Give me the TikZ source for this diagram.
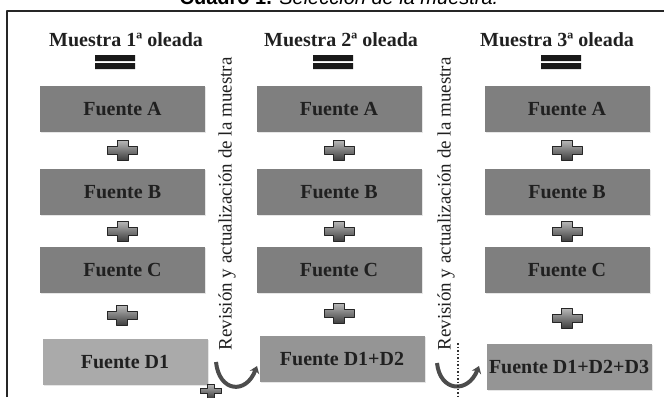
\documentclass[tikz,border=0pt]{standalone}
\usepackage{fontspec}
\setmainfont{Liberation Serif}
\newfontfamily\titlefont{Liberation Sans}
\usetikzlibrary{arrows.meta,shadows,calc}
\definecolor{gcaja}{HTML}{7F7F7F}
\definecolor{gcajad}{HTML}{959595}
\definecolor{gtexto}{HTML}{202020}
\tikzset{
  mas/.pic={\draw[black!85, line width=1pt, top color=gray!55, bottom color=black!75]
    (-15,-4) -- (-5.5,-4) -- (-5.5,-10) -- (5.5,-10) -- (5.5,-4) -- (15,-4) -- (15,4)
    -- (5.5,4) -- (5.5,10) -- (-5.5,10) -- (-5.5,4) -- (-15,4) -- cycle;},
  igual/.pic={\fill[black!90] (-20,-7) rectangle (20,-1) (-20,1) rectangle (20,7);}
}
\begin{document}
\begin{tikzpicture}[x=1pt, y=-1pt, line join=round, >=Stealth,
  caja/.style={fill=gcaja, minimum width=165pt, minimum height=46pt, inner sep=0pt, text=gtexto,
    font=\fontsize{20}{20}\selectfont\bfseries, drop shadow={shadow xshift=1pt, shadow yshift=-1pt, opacity=.2}},
  cajad/.style={caja, fill=gcajad},
  cabecera/.style={font=\fontsize{20}{20}\selectfont\bfseries, text=gtexto},
  lateral/.style={rotate=90, font=\fontsize{19}{19}\selectfont, text=gtexto},
  curva/.style={line width=4pt, draw=black!70, -{Stealth[length=7pt, width=10pt]}}]
\useasboundingbox (0,0) rectangle (664,397);
% titulo cortado arriba
\node[anchor=base, font=\titlefont\fontsize{20}{20}\selectfont] (titulo) at (339,4) {\textbf{Cuadro 1.} \textit{Selección de la muestra.}};
\draw[line width=1.2pt, black!85] (7,397) |- (664,11);
% columnas
\foreach \c/\x/\h/\e in {1/122.5/126/115, 2/339/341/333, 3/567/557/561}{
  \node[cabecera] (m\c) at (\h,40) {Muestra \c ª oleada};
  \pic at (\e,62) {igual};
  \node[caja] (a\c) at (\x,109) {Fuente A};
  \node[caja] (b\c) at (\x,192) {Fuente B};
  \node[caja] (c\c) at (\x,270) {Fuente C};
  \pic at (\x,150) {mas};
  \pic at (\x,231) {mas};
}
\node[cajad, fill=gcajad!80!white] (d1) at (125,362) {Fuente D1};
\node[cajad] (d2) at (342,359) {Fuente D1+D2};
\node[cajad] (d3) at (569,367) {Fuente D1+D2+D3};
\pic at (122,315) {mas};
\pic at (339,313) {mas};
\pic at (567,318) {mas};
% revision
\node[lateral] (r1) at (227,204) {Revisión y actualización de la muestra};
\node[lateral] (r2) at (446,204) {Revisión y actualización de la muestra};
\coordinate (g1) at (216,362);
\coordinate (h1) at (257,366);
\coordinate (g2) at (437,363);
\coordinate (h2) at (479,366);
\coordinate (p2) at (458,343);
\draw[curva] (g1) .. controls (219,392) and (246,395) .. (h1);
\draw[curva] (g2) .. controls (440,392) and (468,394) .. (h2);
\draw[dotted, line width=1.5pt, black!80] (p2) -- (p2 |- 0,397);
\pic[scale=0.7] at (211,391) {mas};
\end{tikzpicture}
\end{document}
